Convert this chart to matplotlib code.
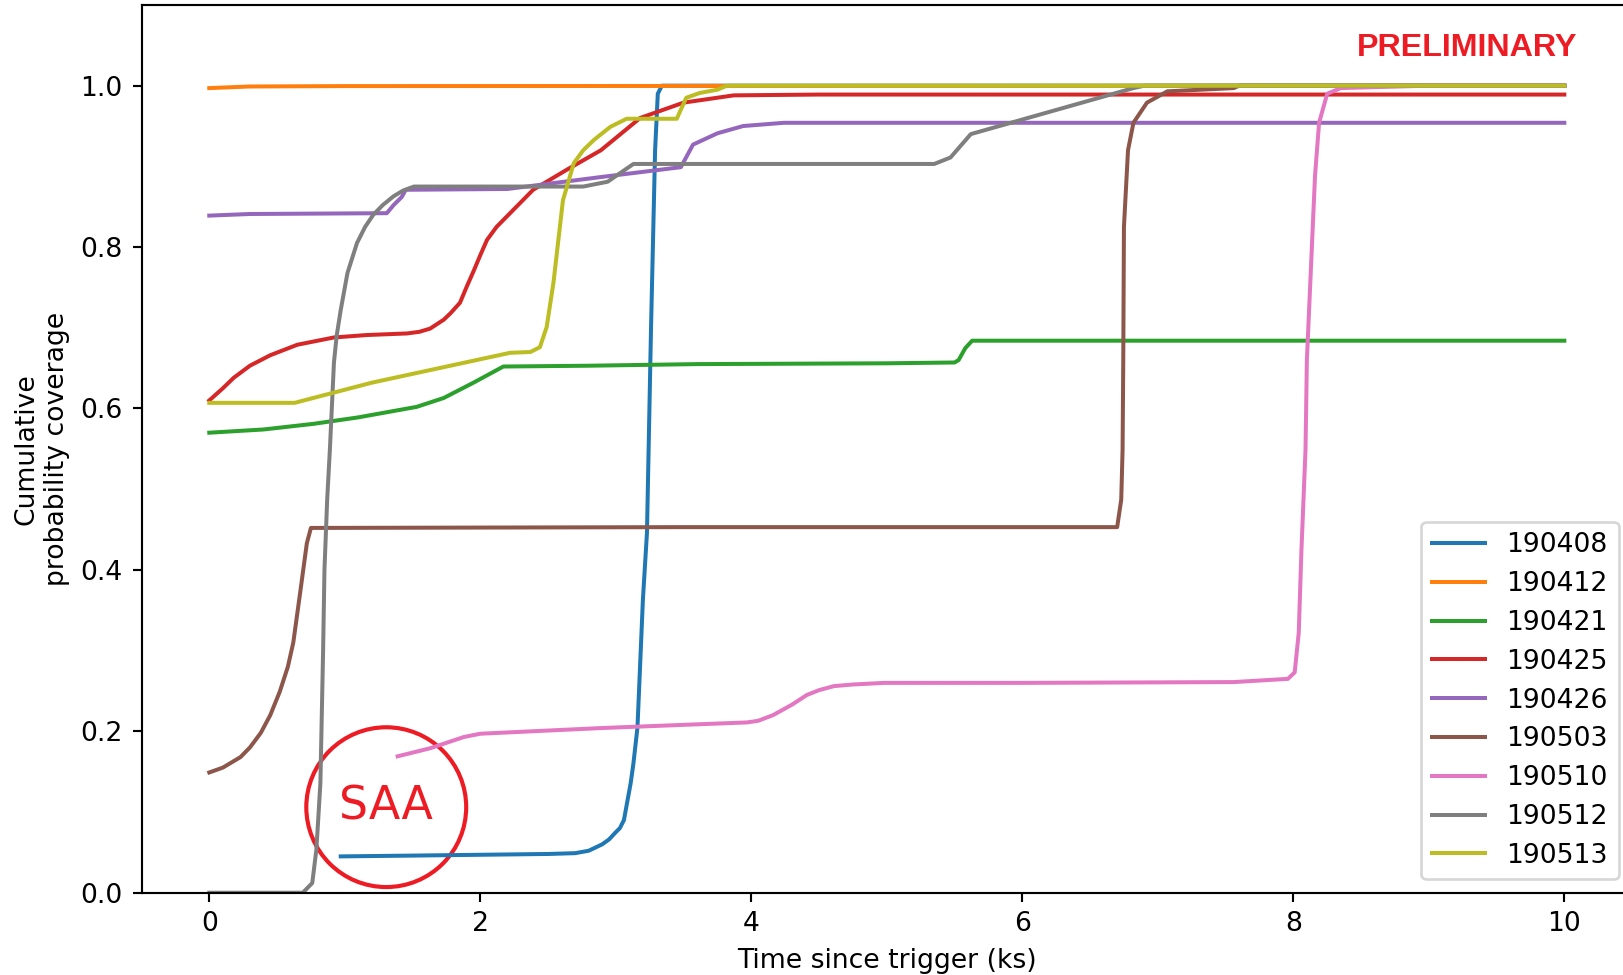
import numpy as np
import matplotlib
matplotlib.use('Agg')
import matplotlib.pyplot as plt
from matplotlib.patches import Ellipse

# readings, time in ks
t_190408 = [0.97, 1.5, 2.0, 2.5, 2.7, 2.8, 2.9, 2.95, 3.0, 3.03, 3.06, 3.11, 3.13, 3.16, 3.20, 3.23, 3.26, 3.29, 3.31, 3.34, 3.5, 10]
p_190408 = [0.045, 0.046, 0.047, 0.048, 0.049, 0.052, 0.06, 0.066, 0.075, 0.08, 0.09, 0.136, 0.16, 0.205, 0.363, 0.446, 0.7, 0.92, 0.99, 1.0, 1.0, 1.0]

t_190412 = [0, 0.3, 1.0, 10]
p_190412 = [0.997, 0.999, 0.9995, 1.0]

t_190421 = [0, 0.4, 0.77, 1.1, 1.53, 1.73, 1.95, 2.17, 2.8, 3.6, 5.0, 5.5, 5.53, 5.58, 5.63, 10]
p_190421 = [0.570, 0.574, 0.581, 0.589, 0.602, 0.613, 0.632, 0.652, 0.653, 0.655, 0.656, 0.657, 0.66, 0.675, 0.684, 0.684]

t_190425 = [0, 0.1, 0.18, 0.30, 0.45, 0.65, 0.92, 1.16, 1.46, 1.55, 1.63, 1.73, 1.78, 1.85, 1.90, 1.95, 2.0, 2.05, 2.12, 2.39, 2.64, 2.89, 3.18, 3.50, 3.87, 4.5, 10]
p_190425 = [0.61, 0.625, 0.638, 0.653, 0.666, 0.679, 0.688, 0.691, 0.693, 0.695, 0.699, 0.710, 0.718, 0.731, 0.751, 0.77, 0.79, 0.809, 0.825, 0.871, 0.896, 0.92, 0.960, 0.979, 0.988, 0.989, 0.989]

t_190426 = [0, 0.3, 1.31, 1.36, 1.42, 1.45, 2.2, 2.9, 3.48, 3.57, 3.75, 3.94, 4.24, 10]
p_190426 = [0.839, 0.841, 0.842, 0.852, 0.862, 0.871, 0.872, 0.887, 0.899, 0.927, 0.941, 0.950, 0.954, 0.954]

t_190503 = [0, 0.1, 0.23, 0.3, 0.38, 0.45, 0.52, 0.58, 0.62, 0.67, 0.72, 0.75, 3.5, 6.70, 6.73, 6.74, 6.745, 6.75, 6.78, 6.82, 6.92, 7.07, 7.56, 7.6, 10]
p_190503 = [0.149, 0.155, 0.168, 0.18, 0.198, 0.22, 0.249, 0.28, 0.31, 0.371, 0.433, 0.452, 0.453, 0.453, 0.487, 0.549, 0.66, 0.825, 0.92, 0.954, 0.979, 0.993, 0.997, 1.0, 1.0]

t_190510 = [1.39, 1.63, 1.88, 2.0, 2.89, 3.5, 3.97, 4.05, 4.16, 4.3, 4.41, 4.5, 4.61, 4.75, 4.98, 6.0, 7.56, 7.76, 7.96, 8.01, 8.04, 8.06, 8.09, 8.10, 8.16, 8.19, 8.25, 8.35, 9.0, 10]
p_190510 = [0.169, 0.179, 0.193, 0.197, 0.204, 0.208, 0.211, 0.213, 0.220, 0.233, 0.245, 0.251, 0.256, 0.258, 0.260, 0.260, 0.261, 0.263, 0.265, 0.273, 0.322, 0.425, 0.549, 0.66, 0.888, 0.954, 0.99, 0.997, 1.0, 1.0]

t_190512 = [0, 0.69, 0.76, 0.79, 0.80, 0.82, 0.84, 0.85, 0.87, 0.89, 0.92, 0.94, 0.97, 1.02, 1.09, 1.15, 1.21, 1.28, 1.36, 1.43, 1.51, 2.0, 2.76, 2.94, 3.13, 4.5, 5.35, 5.47, 5.62, 6.82, 6.9, 10]
p_190512 = [0, 0, 0.012, 0.053, 0.08, 0.136, 0.30, 0.40, 0.487, 0.549, 0.657, 0.69, 0.722, 0.768, 0.805, 0.825, 0.840, 0.852, 0.863, 0.870, 0.875, 0.875, 0.875, 0.881, 0.903, 0.903, 0.903, 0.911, 0.940, 0.997, 1.0, 1.0]

t_190513 = [0, 0.63, 1.2, 2.22, 2.37, 2.44, 2.49, 2.54, 2.61, 2.69, 2.76, 2.84, 2.96, 3.08, 3.45, 3.49, 3.52, 3.62, 3.75, 3.82, 10]
p_190513 = [0.607, 0.607, 0.632, 0.669, 0.670, 0.676, 0.701, 0.756, 0.858, 0.904, 0.92, 0.933, 0.949, 0.959, 0.959, 0.974, 0.985, 0.991, 0.995, 1.0, 1.0]

eventos = ['190408', '190412', '190421', '190425', '190426', '190503', '190510', '190512', '190513']
tempos = [t_190408, t_190412, t_190421, t_190425, t_190426, t_190503, t_190510, t_190512, t_190513]
coberturas = [p_190408, p_190412, p_190421, p_190425, p_190426, p_190503, p_190510, p_190512, p_190513]

vermelho = '#ed1c24'
DPI = 192

fig = plt.figure(figsize=(1623 / DPI, 975 / DPI), dpi=DPI)
ax = fig.add_axes([0.0872, 0.0844, 0.9184, 0.9105])

for nome, t, p in zip(eventos, tempos, coberturas):
    ax.plot(t, p, label=nome)

ax.set_xlim(-0.5, 10.5)
ax.set_ylim(0, 1.1)
ax.set_xticks([0, 2, 4, 6, 8, 10])
ax.set_yticks([0.0, 0.2, 0.4, 0.6, 0.8, 1.0])
ax.set_xlabel('Time since trigger (ks)')
ax.set_ylabel('Cumulative\nprobability coverage')
ax.legend(loc='lower right', labelspacing=0.48)

# marcação da SAA
ax.add_patch(Ellipse((1.306, 0.106), 1.18, 0.198, fill=False, edgecolor=vermelho, lw=1.55))
ax.text(1.306, 0.106, 'SAA', color=vermelho, fontsize=17.2, ha='center', va='center')

ax.text(9.28, 1.047, 'PRELIMINARY', color=vermelho, fontsize=12.1, fontweight='bold',
        family='Liberation Sans', ha='center', va='center')

fig.savefig('out.png', dpi=DPI)
